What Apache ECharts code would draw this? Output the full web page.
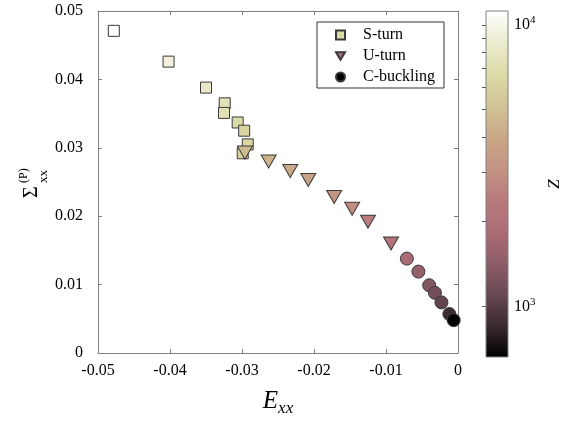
<!DOCTYPE html>
<html>
<head>
<meta charset="utf-8">
<script src="https://cdn.jsdelivr.net/npm/echarts@6/dist/echarts.min.js"></script>
<style>
  html, body { margin: 0; padding: 0; background: #fff; }
  #chart { width: 564px; height: 422px; }
</style>
</head>
<body>
<div id="chart"></div>
<script>
// S-turn points: [Exx, Sigma_xx(P), log10(Z)]
var sTurn = [
  [-0.0478, 0.0471, 4.05],
  [-0.0402, 0.0426, 3.97],
  [-0.0350, 0.0388, 3.92],
  [-0.0324, 0.0365, 3.87],
  [-0.0325, 0.0351, 3.86],
  [-0.0306, 0.0337, 3.82],
  [-0.0297, 0.0325, 3.80],
  [-0.0292, 0.0305, 3.79],
  [-0.0299, 0.0292, 3.77]
]
var uTurn = [
  [-0.0296, 0.0293, 3.68],
  [-0.0263, 0.0280, 3.65],
  [-0.0233, 0.0266, 3.62],
  [-0.0208, 0.0253, 3.57],
  [-0.0172, 0.0228, 3.50],
  [-0.0147, 0.0211, 3.46],
  [-0.0125, 0.0192, 3.39],
  [-0.0093, 0.0160, 3.32]
]
var cBuckling = [
  [-0.0071, 0.0138, 3.26],
  [-0.0055, 0.0119, 3.18],
  [-0.0040, 0.0099, 3.12],
  [-0.0032, 0.0088, 3.08],
  [-0.0023, 0.0074, 3.03],
  [-0.0012, 0.0057, 2.94],
  [-0.0006, 0.0048, 2.83]
]
var xTicks = { min: -0.05, max: 0, interval: 0.01 }
var yTicks = { min: 0, max: 0.05, interval: 0.01 }
// colorbar (log10 Z)
var zMin = 2.82
var zMax = 4.05
var zMinorTicks = [1000, 2000, 3000, 4000, 5000, 6000, 7000, 8000, 9000, 10000]
var zLabelTicks = [3, 4]
var palette = ['#000000', '#3a2a2e', '#684852', '#8e5e68', '#ac6c76', '#b87a7c',
  '#c49484', '#caa888', '#d2c496', '#dcdca8', '#ececd0', '#ffffff']

var serif = '"Liberation Serif", "DejaVu Serif", serif'
var frame = '#808080'

var myChart = echarts.init(document.getElementById('chart'))

var stops = palette.map(function (c, i) {
  return { offset: i / (palette.length - 1), color: c }
})

// shared style for the 4 frame axes of the main plot
function frameAxis(extra) {
  var a = {
    gridIndex: 0, type: 'value',
    axisLine: { show: true, onZero: false, lineStyle: { color: frame } },
    axisTick: { show: true, inside: true, length: 4, lineStyle: { color: frame } },
    splitLine: { show: false }
  }
  for (var k in extra) a[k] = extra[k]
  return a
}

var option = {
  animation: false,
  backgroundColor: '#fff',
  grid: [
    { left: 98, top: 11, width: 360, height: 346 },
    { left: 486, top: 11, width: 22, height: 346 }
  ],
  legend: {
    orient: 'vertical',
    left: 317,
    top: 22,
    padding: [5, 9, 3, 18],
    itemGap: 5,
    itemWidth: 9,
    itemHeight: 9,
    backgroundColor: '#fff',
    borderColor: '#333',
    borderWidth: 1,
    textStyle: { fontFamily: serif, fontSize: 16, color: '#000', padding: [0, 0, 0, 13] },
    data: [
      { name: 'S-turn', icon: 'rect' },
      { name: 'U-turn', icon: 'path://M0,0L20,0L10,17Z' },
      { name: 'C-buckling', icon: 'circle' }
    ]
  },
  visualMap: {
    show: false,
    type: 'continuous',
    seriesIndex: [0, 1, 2],
    dimension: 2,
    min: zMin,
    max: zMax,
    inRange: { color: palette }
  },
  xAxis: [
    frameAxis({
      min: xTicks.min, max: xTicks.max, interval: xTicks.interval,
      axisLabel: { fontFamily: serif, fontSize: 16, color: '#000', margin: 10 },
      name: '{e|E}{s|xx}',
      nameLocation: 'middle',
      nameGap: 33,
      nameTextStyle: {
        rich: {
          e: { fontFamily: serif, fontStyle: 'italic', fontSize: 25, color: '#000' },
          s: { fontFamily: serif, fontStyle: 'italic', fontSize: 17, color: '#000', padding: [14, 0, 0, 0] }
        }
      }
    }),
    frameAxis({
      position: 'top', min: xTicks.min, max: xTicks.max, interval: xTicks.interval,
      axisLabel: { show: false }
    }),
    { gridIndex: 1, type: 'value', min: 0, max: 1, show: false }
  ],
  yAxis: [
    frameAxis({
      min: yTicks.min, max: yTicks.max, interval: yTicks.interval,
      axisLabel: { fontFamily: serif, fontSize: 16, color: '#000', margin: 15 }
    }),
    frameAxis({
      position: 'right', min: yTicks.min, max: yTicks.max, interval: yTicks.interval,
      axisLabel: { show: false }
    }),
    {
      gridIndex: 1, type: 'value', position: 'right', min: zMin, max: zMax,
      axisLine: { show: false },
      axisTick: {
        show: true, inside: true, length: 4,
        customValues: zMinorTicks.map(function (v) { return Math.log10(v) }),
        lineStyle: { color: '#555' }
      },
      axisLabel: {
        customValues: zLabelTicks,
        margin: 6,
        formatter: function (v) { return '{b|10}{p|' + Math.round(v) + '}' },
        rich: {
          b: { fontFamily: serif, fontSize: 16, color: '#000' },
          p: { fontFamily: serif, fontSize: 11, color: '#000', padding: [0, 0, 9, 0] }
        }
      },
      splitLine: { show: false },
      name: 'Z',
      nameLocation: 'middle',
      nameRotate: 90,
      nameGap: 38,
      nameTextStyle: { fontFamily: serif, fontStyle: 'italic', fontSize: 17, color: '#000' }
    }
  ],
  graphic: [
    {
      // y axis title, rotated
      type: 'group',
      x: 0,
      y: 198,
      rotation: Math.PI / 2,
      children: [
        { type: 'text', x: 0, y: 32, style: { text: 'Σ', fontFamily: serif, fontSize: 20, fill: '#000', align: 'left', verticalAlign: 'middle' } },
        { type: 'text', x: 15, y: 24, style: { text: '(P)', fontFamily: serif, fontSize: 12, fill: '#000', align: 'left', verticalAlign: 'middle' } },
        { type: 'text', x: 15, y: 44, style: { text: 'xx', fontFamily: serif, fontSize: 13, fill: '#000', align: 'left', verticalAlign: 'middle' } }
      ]
    }
  ],
  series: [
    {
      name: 'S-turn', type: 'scatter', xAxisIndex: 0, yAxisIndex: 0,
      symbol: 'rect', symbolSize: 11,
      itemStyle: { color: '#dcdca8', borderColor: '#3a3a3a', borderWidth: 1, opacity: 1 },
      data: sTurn
    },
    {
      name: 'U-turn', type: 'scatter', xAxisIndex: 0, yAxisIndex: 0,
      symbol: 'path://M0,0L20,0L10,17Z', symbolSize: [15, 13],
      itemStyle: { color: '#b07078', borderColor: '#3a3a3a', borderWidth: 1, opacity: 1 },
      data: uTurn
    },
    {
      name: 'C-buckling', type: 'scatter', xAxisIndex: 0, yAxisIndex: 0,
      symbol: 'circle', symbolSize: 13,
      itemStyle: { color: '#000000', borderColor: '#3a3a3a', borderWidth: 1, opacity: 1 },
      data: cBuckling
    },
    {
      // colorbar gradient
      type: 'custom', xAxisIndex: 2, yAxisIndex: 2, silent: true,
      encode: { x: [0, 2], y: [1, 3] },
      data: [[0, zMin, 1, zMax]],
      renderItem: function (params, api) {
        var p1 = api.coord([api.value(0), api.value(3)])
        var p2 = api.coord([api.value(2), api.value(1)])
        return {
          type: 'rect',
          shape: { x: p1[0], y: p1[1], width: p2[0] - p1[0], height: p2[1] - p1[1] },
          style: {
            fill: new echarts.graphic.LinearGradient(0, 1, 0, 0, stops),
            stroke: frame,
            lineWidth: 1
          }
        }
      }
    }
  ]
}
myChart.setOption(option)
</script>
</body>
</html>
